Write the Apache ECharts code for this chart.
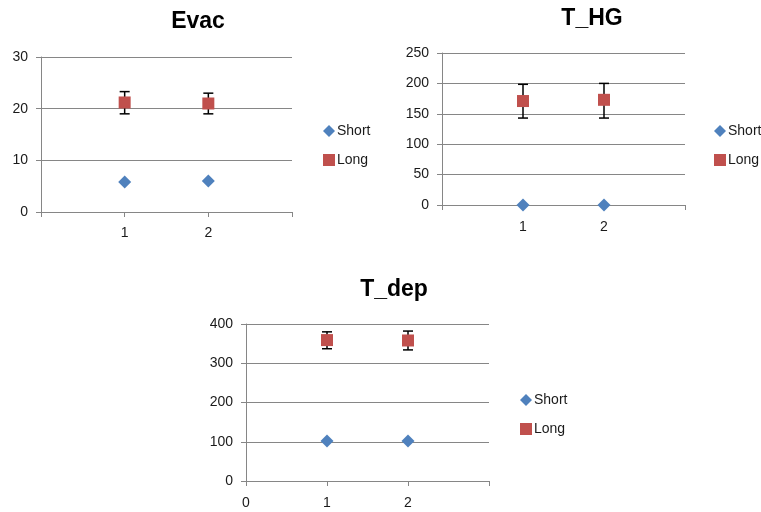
<!DOCTYPE html>
<html>
<head>
<meta charset="utf-8">
<script src="https://cdn.jsdelivr.net/npm/echarts@6/dist/echarts.min.js"></script>
<style>
html,body{margin:0;padding:0;background:#fff;}
#chart{width:761px;height:512px;}
</style>
</head>
<body>
<div id="chart"></div>
<script>
// ---- data ----
const titles = ['Evac', 'T_HG', 'T_dep'];
const seriesNames = ['Short', 'Long'];
const xValues = [1, 2];

const evacShort = [5.8, 6.0];
const evacLong = [21.2, 21.0];
const evacLongLow = [19.0, 19.0];
const evacLongHigh = [23.3, 23.0];

const thgShort = [0, 0];
const thgLong = [171, 173];
const thgLongLow = [143, 143];
const thgLongHigh = [198.5, 200];

const tdepShort = [102, 102];
const tdepLong = [359, 358];
const tdepLongLow = [337, 334];
const tdepLongHigh = [380, 382];

const yMax = [30, 250, 400];
const yInterval = [10, 50, 100];

// ---- layout ----
const grids = [
  {left: 41, top: 57, width: 251, height: 155},
  {left: 442, top: 53, width: 243, height: 152},
  {left: 246, top: 324, width: 243, height: 157}
];
const titlePos = [{x: 193, y: 5}, {x: 587, y: 2}, {x: 389, y: 273}];
const legendPos = [{left: 318, top: 119}, {left: 709, top: 119}, {left: 515, top: 388}];
const xLabelMargin = [14, 15, 15];
const showZeroX = [false, false, true];

const shortData = [evacShort, thgShort, tdepShort];
const longData = [evacLong, thgLong, tdepLong];
const lowData = [evacLongLow, thgLongLow, tdepLongLow];
const highData = [evacLongHigh, thgLongHigh, tdepLongHigh];

const BLUE = '#4F81BD', RED = '#C0504D', GRID = '#868686', TXT = '#1a1a1a';
const FONT = 'Liberation Sans, Arial, sans-serif';

const option = {
  backgroundColor: '#fff',
  animation: false,
  title: titles.map((t, i) => ({
    text: t, left: titlePos[i].x, top: titlePos[i].y, textAlign: 'center',
    textStyle: {fontFamily: FONT, fontSize: 23, fontWeight: 'bold', color: '#000'}
  })),
  legend: legendPos.map((p, i) => ({
    left: p.left, top: p.top, orient: 'vertical', itemGap: 15,
    itemWidth: 12, itemHeight: 12,
    textStyle: {fontFamily: FONT, fontSize: 14, color: TXT, padding: [0, 0, 0, -3]},
    data: [{name: 'Short', icon: 'diamond'}, {name: 'Long', icon: 'rect'}]
  })),
  grid: grids.map(g => Object.assign({containLabel: false}, g)),
  xAxis: grids.map((g, i) => ({
    type: 'value', gridIndex: i, min: 0, max: 3, interval: 1,
    axisLine: {show: true, lineStyle: {color: GRID, width: 1}},
    axisTick: {show: true, length: 5, lineStyle: {color: GRID}},
    splitLine: {show: false},
    axisLabel: {
      margin: xLabelMargin[i], fontFamily: FONT, fontSize: 14, color: TXT,
      formatter: v => (v === 1 || v === 2 || (v === 0 && showZeroX[i])) ? String(v) : ''
    }
  })),
  yAxis: grids.map((g, i) => ({
    type: 'value', gridIndex: i, min: 0, max: yMax[i], interval: yInterval[i],
    axisLine: {show: true, lineStyle: {color: GRID, width: 1}},
    axisTick: {show: true, length: 5, lineStyle: {color: GRID}},
    splitLine: {show: true, lineStyle: {color: GRID, width: 1}},
    axisLabel: {margin: 13, fontFamily: FONT, fontSize: 14, color: TXT}
  })),
  series: []
};

for (let i = 0; i < 3; i++) {
  option.series.push({
    type: 'custom', name: 'err' + i, xAxisIndex: i, yAxisIndex: i, z: 2,
    data: xValues.map((x, k) => [x, lowData[i][k], highData[i][k]]),
    renderItem: function (params, api) {
      const x = api.value(0);
      const lo = api.coord([x, api.value(1)]);
      const hi = api.coord([x, api.value(2)]);
      const cw = 5;
      const st = {stroke: '#000', lineWidth: 1.5};
      return {
        type: 'group',
        children: [
          {type: 'line', shape: {x1: lo[0], y1: lo[1], x2: hi[0], y2: hi[1]}, style: st},
          {type: 'line', shape: {x1: hi[0] - cw, y1: hi[1], x2: hi[0] + cw, y2: hi[1]}, style: st},
          {type: 'line', shape: {x1: lo[0] - cw, y1: lo[1], x2: lo[0] + cw, y2: lo[1]}, style: st}
        ]
      };
    }
  });
  option.series.push({
    type: 'scatter', name: 'Short', xAxisIndex: i, yAxisIndex: i, z: 4,
    symbol: 'diamond', symbolSize: 13,
    itemStyle: {color: BLUE, opacity: 1},
    data: xValues.map((x, k) => [x, shortData[i][k]])
  });
  option.series.push({
    type: 'scatter', name: 'Long', xAxisIndex: i, yAxisIndex: i, z: 4,
    symbol: 'rect', symbolSize: 12,
    itemStyle: {color: RED, opacity: 1},
    data: xValues.map((x, k) => [x, longData[i][k]])
  });
}

const chart = echarts.init(document.getElementById('chart'), null, {renderer: 'canvas'});
chart.setOption(option);
</script>
</body>
</html>
